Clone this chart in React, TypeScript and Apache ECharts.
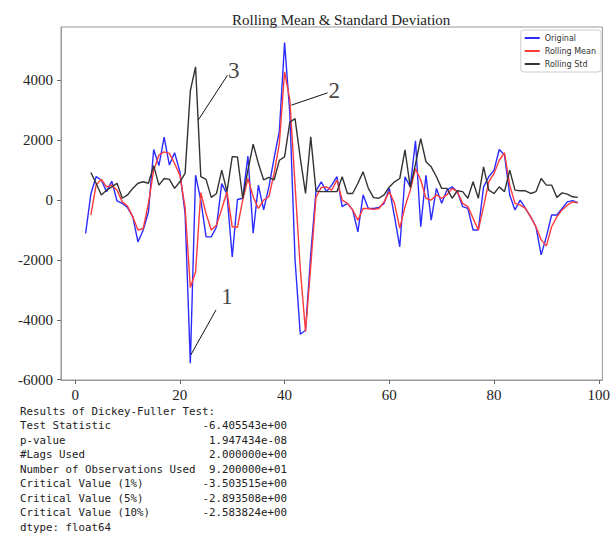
import React, { useEffect, useRef } from 'react';
import * as echarts from 'echarts';

const chartTitle = 'Rolling Mean & Standard Deviation';
const seriesNames = ['Original', 'Rolling Mean', 'Rolling Std'];
const seriesColors = ['#2b2bff', '#ff3a3a', '#333333'];

const originalStart = 2;
const originalValues = [
  -1110, 200, 780, 670, 280, 630, -30, -110, -250, -550,
  -1400, -1000, -400, 1690, 1150, 2100, 1170, 1580, 950, -450,
  -5450, 830, 0, -1230, -1230, -890, 550, 200, -1900, 20,
  60, 1470, -1110, 500, -330, 440, 1400, 2300, 5260, 2900,
  -2000, -4480, -4350, -1800, 300, 610, 280, 500, 780, -220,
  -110, -330, -1060, 170, -280, -280, -250, -110, 390, -560,
  -1560, 780, 440, 1980, -890, 830, -670, 390, -110, 330,
  440, 280, -220, -280, -1000, -1000, 440, 780, 1000, 1690,
  1500, 170, -330, 0, -280, -560, -890, -1830, -1220, -500,
  -500, -280, -60, -20, -90,
];

const meanStart = 3;
const meanValues = [
  -500, 500, 690, 440, 500, 330, -60, -200, -560, -1000,
  -950, -110, 1000, 1500, 1610, 1560, 1220, 830, -250, -2920,
  -2400, 250, -450, -1000, -830, -300, 280, -890, -910, 0,
  720, 110, -280, 0, 110, 890, 1890, 4280, 3350, 500,
  -2300, -4390, -2200, 100, 420, 440, 330, 670, 0, -110,
  -330, -670, -280, -280, -310, -280, -60, 280, -110, -940,
  -220, 330, 1050, 670, 60, 0, 170, 60, 170, 390,
  280, -110, -220, -610, -1000, -220, 610, 890, 1330, 1580,
  500, -110, -170, -280, -560, -890, -1330, -1530, -890, -560,
  -330, -170, -60, -90,
];

const stdStart = 3;
const stdValues = [
  920, 560, 170, 330, 440, 560, 60, 170, 390, 560,
  610, 560, 1150, 500, 720, 690, 390, 610, 890, 3650,
  4450, 780, 690, 90, 220, 1000, 280, 1450, 1440, 60,
  1000, 1870, 1220, 670, 760, 670, 1330, 1440, 2600, 2720,
  1400, 220, 2110, 300, 280, 280, 280, 280, 780, 220,
  220, 560, 940, 390, 80, 60, 170, 440, 610, 720,
  1680, 420, 1200, 2050, 1280, 1110, 780, 390, 390, 60,
  310, 280, 60, 610, 60, 1110, 330, 220, 440, 280,
  1000, 330, 310, 310, 220, 280, 720, 500, 500, 90,
  240, 200, 110, 90,
];

const xTicks = [0, 20, 40, 60, 80, 100];
const yTicks = [-6000, -4000, -2000, 0, 2000, 4000];

const annotationLabels = ['1', '2', '3'];
const annotationTips = [[22.1, -5170], [41.3, 3170], [23.5, 2670]];
const annotationEnds = [[26.9, -3670], [48.2, 3580], [29.1, 4170]];
const annotationTextAt = [[29.0, -3230], [49.5, 3670], [30.3, 4330]];

const dfHeader = 'Results of Dickey-Fuller Test:';
const dfLabels = [
  'Test Statistic',
  'p-value',
  '#Lags Used',
  'Number of Observations Used',
  'Critical Value (1%)',
  'Critical Value (5%)',
  'Critical Value (10%)',
];
const dfValues = [
  '-6.405543e+00',
  '1.947434e-08',
  '2.000000e+00',
  '9.200000e+01',
  '-3.503515e+00',
  '-2.893508e+00',
  '-2.583824e+00',
];
const dfFooter = 'dtype: float64';

const toPairs = (start: number, vals: number[]) => vals.map((v, i) => [start + i, v]);

export default function App() {
  const ref = useRef<HTMLDivElement>(null);

  useEffect(() => {
    if (!ref.current) return;
    const chart = echarts.init(ref.current, undefined, { renderer: 'svg' });

    const serif = '"Liberation Serif", "DejaVu Serif", serif';
    const mono = '"DejaVu Sans Mono", "Liberation Mono", monospace';
    const textColor = '#222';
    const monoFont = `10.8px ${mono}`;
    const lineH = 14.5;
    const textTop = 411;

    const graphicTexts: any[] = [];
    graphicTexts.push({
      type: 'text',
      x: 20,
      y: textTop,
      style: { text: dfHeader, font: monoFont, fill: textColor, textVerticalAlign: 'middle' },
    });
    dfLabels.forEach((lab, i) => {
      graphicTexts.push({
        type: 'text',
        x: 20,
        y: textTop + (i + 1) * lineH,
        style: { text: lab, font: monoFont, fill: textColor, textVerticalAlign: 'middle' },
      });
      graphicTexts.push({
        type: 'text',
        x: 287,
        y: textTop + (i + 1) * lineH,
        style: { text: dfValues[i], font: monoFont, fill: textColor, textAlign: 'right', textVerticalAlign: 'middle' },
      });
    });
    graphicTexts.push({
      type: 'text',
      x: 20,
      y: textTop + (dfLabels.length + 1) * lineH,
      style: { text: dfFooter, font: monoFont, fill: textColor, textVerticalAlign: 'middle' },
    });

    const lineSeries = [originalValues, meanValues, stdValues].map((vals, i) => ({
      name: seriesNames[i],
      type: 'line',
      data: toPairs([originalStart, meanStart, stdStart][i], vals),
      showSymbol: false,
      symbol: 'none',
      lineStyle: { width: 1.4, color: seriesColors[i] },
      itemStyle: { color: seriesColors[i] },
      z: 2 + i,
    }));

    chart.setOption({
      animation: false,
      backgroundColor: '#fff',
      title: {
        text: chartTitle,
        left: 227,
        top: 7,
        textStyle: { fontFamily: serif, fontSize: 15, fontWeight: 'normal', color: textColor },
      },
      legend: {
        data: seriesNames,
        orient: 'vertical',
        right: 12,
        top: 30,
        icon: 'rect',
        itemWidth: 15,
        itemHeight: 2,
        itemGap: 5,
        padding: [4, 5, 4, 4],
        borderColor: '#ccc',
        borderWidth: 1,
        borderRadius: 3,
        backgroundColor: '#fff',
        textStyle: { fontFamily: '"DejaVu Sans", sans-serif', fontSize: 8, color: '#333' },
      },
      grid: {
        left: 61,
        right: 10,
        top: 27,
        bottom: 154,
        show: true,
        borderColor: '#999',
        borderWidth: 1,
        containLabel: false,
      },
      xAxis: {
        type: 'value',
        min: -2.7,
        max: 100.7,
        splitLine: { show: false },
        axisLine: { show: true, onZero: false, lineStyle: { color: '#999' } },
        axisTick: { show: true, inside: false, length: 4, lineStyle: { color: '#666' }, customValues: xTicks },
        axisLabel: {
          customValues: xTicks,
          margin: 7,
          fontFamily: serif,
          fontSize: 15,
          color: textColor,
          formatter: (v: number) => String(v),
        },
      },
      yAxis: {
        type: 'value',
        min: -6010,
        max: 5780,
        splitLine: { show: false },
        axisLine: { show: true, onZero: false, lineStyle: { color: '#999' } },
        axisTick: { show: true, inside: false, length: 4, lineStyle: { color: '#666' }, customValues: yTicks },
        axisLabel: {
          customValues: yTicks,
          margin: 8,
          fontFamily: serif,
          fontSize: 15,
          color: textColor,
          formatter: (v: number) => String(v),
        },
      },
      graphic: graphicTexts,
      series: [
        ...lineSeries,
        {
          name: 'annotations',
          type: 'scatter',
          symbolSize: 0,
          data: annotationTextAt.map((p, i) => ({ name: annotationLabels[i], value: p })),
          label: {
            show: true,
            position: 'inside',
            formatter: (p: any) => p.name,
            fontFamily: serif,
            fontSize: 23,
            color: '#111',
          },
          silent: true,
          z: 10,
          markLine: {
            silent: true,
            symbol: ['none', 'none'],
            label: { show: false },
            lineStyle: { color: '#111', width: 1, type: 'solid' },
            data: annotationTips.map((p, i) => [{ coord: p }, { coord: annotationEnds[i] }]),
          },
        },
      ],
    });

    return () => chart.dispose();
  }, []);

  return (
    <div
      ref={ref}
      style={{ position: 'fixed', left: 0, top: 0, width: 613, height: 534, background: '#fff' }}
    />
  );
}
